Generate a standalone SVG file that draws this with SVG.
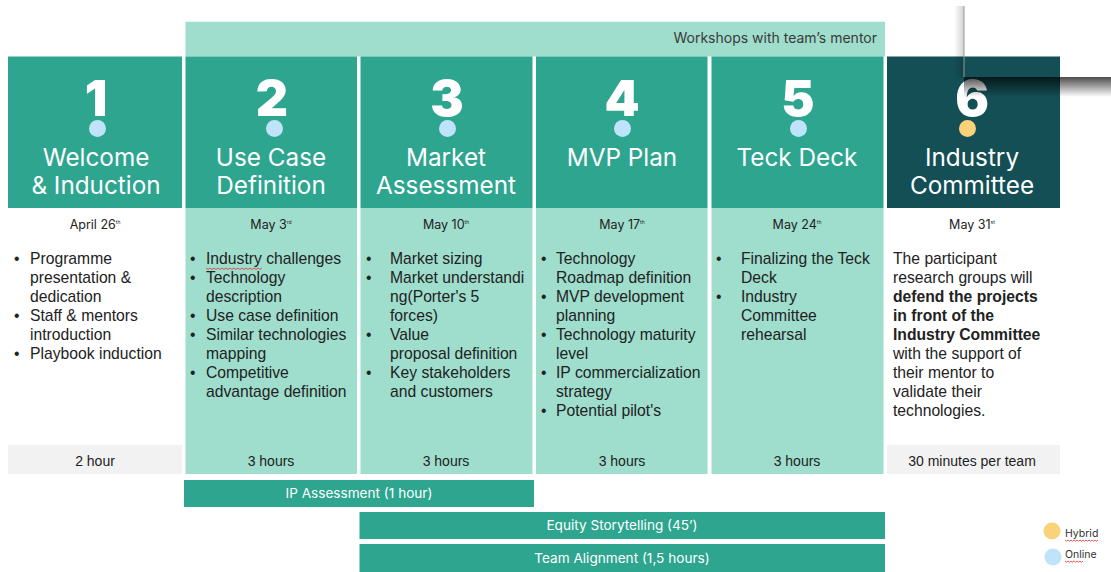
<svg xmlns="http://www.w3.org/2000/svg" width="1111" height="572" viewBox="0 0 1111 572">
<defs>
<style>
.hdr{fill:#2DA58F}
.hdrd{fill:#134F55}
.body{fill:#9FDDCD}
.gray{fill:#F2F2F2}
.num{font-family:Inter,"Liberation Sans",sans-serif;font-weight:900;font-size:50px;fill:#fff;text-anchor:middle}
.ttl{font-family:Inter,"Liberation Sans",sans-serif;font-size:24.3px;fill:#fff;text-anchor:middle}
.date{font-family:Inter,"Liberation Sans",sans-serif;font-size:12.5px;fill:#222;text-anchor:middle}
.sup{font-size:5px}
.txt{font-family:"Liberation Sans",Arial,sans-serif;font-size:15.7px;fill:#222}
.b{font-weight:bold}
.hrs{font-family:"Liberation Sans",Arial,sans-serif;font-size:14px;fill:#222;text-anchor:middle}
.bar{fill:#2DA58F}
.barT{font-family:Inter,"Liberation Sans",sans-serif;font-size:13.6px;fill:#fff;text-anchor:middle}
.on{fill:#BFE3F9}
.hy{fill:#F9D27A}
.leg{font-family:Inter,"Liberation Sans",sans-serif;font-size:10.5px;fill:#333}
.wavy{fill:none;stroke:#E03030;stroke-width:0.8}
</style>
<linearGradient id="shadow" x1="0" y1="0" x2="0" y2="1">
<stop offset="0" stop-color="#000" stop-opacity="0.7"/>
<stop offset="1" stop-color="#000" stop-opacity="0"/>
</linearGradient>
<linearGradient id="vshadow" x1="1" y1="0" x2="0" y2="0">
<stop offset="0" stop-color="#000" stop-opacity="0.18"/>
<stop offset="1" stop-color="#000" stop-opacity="0"/>
</linearGradient>
</defs>
<rect width="1111" height="572" fill="#fff"/>

<g id="workshops">
<rect class="body" x="185.5" y="21.7" width="699.5" height="34.8"/>
<text x="877" y="43" font-family="Inter,'Liberation Sans',sans-serif" font-size="14" fill="#3a3a3a" text-anchor="end">Workshops with team’s mentor</text>
</g>

<g id="step1">
<rect class="hdr" x="8" y="56.5" width="174" height="151.5"/>
<text class="num" x="96" y="116">1</text>
<circle class="on" cx="97.5" cy="128.5" r="8.5"/>
<text class="ttl" x="96" y="166">Welcome</text>
<text class="ttl" x="96" y="194">&amp; Induction</text>
<text class="date" x="95" y="229">April 26<tspan class="sup" dy="-5">th</tspan></text>
<text class="txt" x="14" y="264">•</text>
<text class="txt" x="30" y="264">Programme</text>
<text class="txt" x="30" y="283">presentation &amp;</text>
<text class="txt" x="30" y="302">dedication</text>
<text class="txt" x="14" y="321">•</text>
<text class="txt" x="30" y="321">Staff &amp; mentors</text>
<text class="txt" x="30" y="340">introduction</text>
<text class="txt" x="14" y="359">•</text>
<text class="txt" x="30" y="359">Playbook induction</text>
<rect class="gray" x="8" y="445" width="174" height="29"/>
<text class="hrs" x="95" y="466">2 hour</text>
</g>

<g id="step2">
<rect class="hdr" x="185.5" y="56.5" width="171.5" height="151.5"/>
<rect class="body" x="185.5" y="208" width="171.5" height="266"/>
<text class="num" x="272" y="116">2</text>
<circle class="on" cx="274.5" cy="128.5" r="8.5"/>
<text class="ttl" x="271" y="166">Use Case</text>
<text class="ttl" x="271" y="194">Definition</text>
<text class="date" x="271" y="229">May 3<tspan class="sup" dy="-5">rd</tspan></text>
<text class="txt" x="190" y="264">•</text>
<text class="txt" x="206" y="264">Industry challenges</text>
<path class="wavy" d="M206 268 l2 1.5 l2 -1.5 l2 1.5 l2 -1.5 l2 1.5 l2 -1.5 l2 1.5 l2 -1.5 l2 1.5 l2 -1.5 l2 1.5 l2 -1.5 l2 1.5 l2 -1.5 l2 1.5 l2 -1.5 l2 1.5 l2 -1.5 l2 1.5 l2 -1.5 l2 1.5 l2 -1.5 l2 1.5 l2 -1.5 l2 1.5 l2 -1.5 l2 1.5 l2 -1.5"/>
<text class="txt" x="190" y="283">•</text>
<text class="txt" x="206" y="283">Technology</text>
<text class="txt" x="206" y="302">description</text>
<text class="txt" x="190" y="321">•</text>
<text class="txt" x="206" y="321">Use case definition</text>
<text class="txt" x="190" y="340">•</text>
<text class="txt" x="206" y="340">Similar technologies</text>
<text class="txt" x="206" y="359">mapping</text>
<text class="txt" x="190" y="378">•</text>
<text class="txt" x="206" y="378">Competitive</text>
<text class="txt" x="206" y="397">advantage definition</text>
<text class="hrs" x="271" y="466">3 hours</text>
</g>

<g id="step3">
<rect class="hdr" x="360.5" y="56.5" width="172" height="151.5"/>
<rect class="body" x="360.5" y="208" width="172" height="266"/>
<text class="num" x="447" y="116">3</text>
<circle class="on" cx="447.5" cy="128.5" r="8.5"/>
<text class="ttl" x="446" y="166">Market</text>
<text class="ttl" x="446" y="194">Assessment</text>
<text class="date" x="446" y="229">May 10<tspan class="sup" dy="-5">th</tspan></text>
<text class="txt" x="366" y="264">•</text>
<text class="txt" x="390" y="264">Market sizing</text>
<text class="txt" x="366" y="283">•</text>
<text class="txt" x="390" y="283">Market understandi</text>
<text class="txt" x="390" y="302">ng(Porter's 5</text>
<text class="txt" x="390" y="321">forces)</text>
<text class="txt" x="366" y="340">•</text>
<text class="txt" x="390" y="340">Value</text>
<text class="txt" x="390" y="359">proposal definition</text>
<text class="txt" x="366" y="378">•</text>
<text class="txt" x="390" y="378">Key stakeholders</text>
<text class="txt" x="390" y="397">and customers</text>
<text class="hrs" x="446" y="466">3 hours</text>
</g>

<g id="step4">
<rect class="hdr" x="536" y="56.5" width="171.5" height="151.5"/>
<rect class="body" x="536" y="208" width="171.5" height="266"/>
<text class="num" x="622" y="116">4</text>
<circle class="on" cx="622.5" cy="128.5" r="8.5"/>
<text class="ttl" x="622" y="166">MVP Plan</text>
<text class="date" x="622" y="229">May 17<tspan class="sup" dy="-5">th</tspan></text>
<text class="txt" x="541" y="264">•</text>
<text class="txt" x="556" y="264">Technology</text>
<text class="txt" x="556" y="283">Roadmap definition</text>
<text class="txt" x="541" y="302">•</text>
<text class="txt" x="556" y="302">MVP development</text>
<text class="txt" x="556" y="321">planning</text>
<text class="txt" x="541" y="340">•</text>
<text class="txt" x="556" y="340">Technology maturity</text>
<text class="txt" x="556" y="359">level</text>
<text class="txt" x="541" y="378">•</text>
<text class="txt" x="556" y="378">IP commercialization</text>
<text class="txt" x="556" y="397">strategy</text>
<text class="txt" x="541" y="416">•</text>
<text class="txt" x="556" y="416">Potential pilot's</text>
<text class="hrs" x="622" y="466">3 hours</text>
</g>

<g id="step5">
<rect class="hdr" x="711.5" y="56.5" width="172" height="151.5"/>
<rect class="body" x="711.5" y="208" width="172" height="266"/>
<text class="num" x="798" y="116">5</text>
<circle class="on" cx="798.5" cy="128.5" r="8.5"/>
<text class="ttl" x="797" y="166">Teck Deck</text>
<text class="date" x="797" y="229">May 24<tspan class="sup" dy="-5">th</tspan></text>
<text class="txt" x="716" y="264">•</text>
<text class="txt" x="741" y="264">Finalizing the Teck</text>
<text class="txt" x="741" y="283">Deck</text>
<text class="txt" x="716" y="302">•</text>
<text class="txt" x="741" y="302">Industry</text>
<text class="txt" x="741" y="321">Committee</text>
<text class="txt" x="741" y="340">rehearsal</text>
<text class="hrs" x="797" y="466">3 hours</text>
</g>

<g id="step6">
<rect class="hdrd" x="887" y="56.5" width="173" height="151.5"/>
<text class="num" x="972" y="116">6</text>
<circle class="hy" cx="967.5" cy="128.5" r="8.5"/>
<text class="ttl" x="972" y="166">Industry</text>
<text class="ttl" x="972" y="194">Committee</text>
<text class="date" x="972" y="229">May 31<tspan class="sup" dy="-5">st</tspan></text>
<text class="txt" x="893" y="264">The participant</text>
<text class="txt" x="893" y="283">research groups will</text>
<text class="txt b" x="893" y="302">defend the projects</text>
<text class="txt b" x="893" y="321">in front of the</text>
<text class="txt b" x="893" y="340">Industry Committee</text>
<text class="txt" x="893" y="359">with the support of</text>
<text class="txt" x="893" y="378">their mentor to</text>
<text class="txt" x="893" y="397">validate their</text>
<text class="txt" x="893" y="416">technologies.</text>
<rect class="gray" x="887" y="445" width="173" height="29"/>
<text class="hrs" x="972" y="466">30 minutes per team</text>
</g>

<g id="ip-assessment">
<rect class="bar" x="184" y="480" width="350" height="27"/>
<text class="barT" x="359" y="498">IP Assessment (1 hour)</text>
</g>
<g id="equity-storytelling">
<rect class="bar" x="359.5" y="512" width="525.5" height="27"/>
<text class="barT" x="622" y="530">Equity Storytelling (45’)</text>
</g>
<g id="team-alignment">
<rect class="bar" x="359.5" y="544" width="525.5" height="28"/>
<text class="barT" x="622" y="563">Team Alignment (1,5 hours)</text>
</g>

<g id="legend">
<circle class="hy" cx="1052" cy="531" r="8.5"/>
<text class="leg" x="1065" y="537">Hybrid</text>
<path class="wavy" d="M1065 540 l1.5 1.2 l1.5 -1.2 l1.5 1.2 l1.5 -1.2 l1.5 1.2 l1.5 -1.2 l1.5 1.2 l1.5 -1.2 l1.5 1.2 l1.5 -1.2 l1.5 1.2 l1.5 -1.2 l1.5 1.2 l1.5 -1.2 l1.5 1.2 l1.5 -1.2 l1.5 1.2 l1.5 -1.2 l1.5 1.2 l1.5 -1.2 l1.5 1.2 l1.5 -1.2"/>
<circle class="on" cx="1053" cy="557" r="8.5"/>
<text class="leg" x="1065" y="558">Online</text>
<path class="wavy" d="M1065 561 l1.5 1.2 l1.5 -1.2 l1.5 1.2 l1.5 -1.2 l1.5 1.2 l1.5 -1.2 l1.5 1.2 l1.5 -1.2 l1.5 1.2 l1.5 -1.2 l1.5 1.2 l1.5 -1.2"/>
</g>

<g id="window-artifact">
<rect x="954" y="6" width="10" height="71" fill="url(#vshadow)"/>
<line x1="964" y1="6" x2="964" y2="77" stroke="#9a9a9a" stroke-width="1"/>
<rect x="964" y="77" width="147" height="20" fill="url(#shadow)"/>
</g>
</svg>
